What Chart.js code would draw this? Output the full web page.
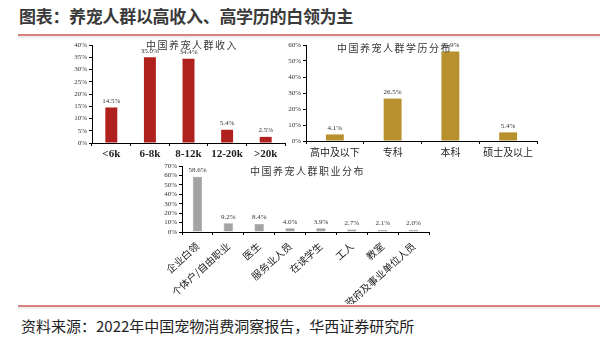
<!DOCTYPE html>
<html>
<head>
<meta charset="utf-8">
<script src="https://cdn.jsdelivr.net/npm/chart.js@4.4.1/dist/chart.umd.min.js"></script>
<style>
  body { margin: 0; width: 600px; height: 346px; background: #fff; position: relative; overflow: hidden; font-family: "Noto Sans CJK SC", sans-serif; }
  .title { position: absolute; left: 19px; top: 3px; font-size: 17px; font-weight: bold; color: #3a3a3a; letter-spacing: -0.3px; }
  .rule { position: absolute; left: 18px; right: 0; height: 2px; background: #d98080; }
  .shade { position: absolute; left: 18px; right: 0; height: 2px; background: #ececec; }
  .source { position: absolute; left: 21px; top: 315px; font-size: 15px; color: #222; }
  .sub { position: absolute; font-size: 10px; line-height: 12px; color: #333; letter-spacing: 1.5px; white-space: nowrap; }
  canvas { position: absolute; }
</style>
</head>
<body>
<div class="title">图表：养宠人群以高收入、高学历的白领为主</div>
<div class="rule" style="top:34px"></div>
<div class="shade" style="top:36px"></div>

<canvas id="income" width="245" height="130" style="left:50px;top:38px"></canvas>
<canvas id="education" width="280" height="126" style="left:270px;top:38px"></canvas>
<canvas id="occupation" width="300" height="146" style="left:140px;top:158px"></canvas>

<div class="sub" style="left:146px;top:39px">中国养宠人群收入</div>
<div class="sub" style="left:337px;top:42px">中国养宠人群学历分布</div>
<div class="sub" style="left:250px;top:165px">中国养宠人群职业分布</div>

<div class="rule" style="top:305px"></div>
<div class="shade" style="top:307px"></div>
<div class="source">资料来源：2022年中国宠物消费洞察报告，华西证券研究所</div>

<script>
// 收入分布
const incomeLabels = ['<6k', '6-8k', '8-12k', '12-20k', '>20k'];
const incomeValues = [14.5, 35.0, 34.4, 5.4, 2.5];

// 学历分布
const eduLabels = ['高中及以下', '专科', '本科', '硕士及以上'];
const eduValues = [4.1, 26.5, 55.9, 5.4];

// 职业分布
const jobLabels = ['企业白领', '个体户/自由职业', '医生', '服务业人员', '在读学生', '工人', '教室', '政府及事业单位人员'];
const jobValues = [58.6, 9.2, 8.4, 4.0, 3.9, 2.7, 2.1, 2.0];

const serif = '"Liberation Serif", "Times New Roman", serif';

// 在柱子顶部写数值
const valueLabels = {
  id: 'valueLabels',
  afterDatasetsDraw(chart) {
    const ctx = chart.ctx;
    const meta = chart.getDatasetMeta(0);
    const data = chart.data.datasets[0].data;
    ctx.save();
    ctx.font = '7px ' + serif;
    ctx.fillStyle = '#333';
    ctx.textAlign = 'center';
    ctx.textBaseline = 'bottom';
    meta.data.forEach((bar, i) => {
      ctx.fillText(data[i].toFixed(1) + '%', bar.x, bar.y - 3);
    });
    ctx.restore();
  }
};

function makeBar(id, labels, values, color, opt) {
  return new Chart(document.getElementById(id), {
    type: 'bar',
    data: {
      labels: labels,
      datasets: [{
        data: values,
        backgroundColor: color,
        borderColor: opt.border || color,
        borderWidth: opt.border ? 0.5 : 0,
        categoryPercentage: 1,
        barPercentage: opt.barPct
      }]
    },
    options: {
      responsive: false,
      animation: false,
      layout: { padding: { top: opt.top, right: opt.right, left: 0, bottom: 0 } },
      plugins: { legend: { display: false }, tooltip: { enabled: false } },
      scales: {
        x: {
          grid: { display: true, drawOnChartArea: false, tickLength: 3, color: '#000', offset: true },
          border: { color: '#000', width: 1 },
          ticks: {
            color: '#222',
            font: opt.xFont,
            padding: opt.xPad || 2,
            autoSkip: false,
            maxRotation: opt.rot || 0,
            minRotation: opt.rot || 0
          },
          afterFit(scale) { scale.height = opt.xHeight; }
        },
        y: {
          min: 0,
          max: opt.max,
          grid: { display: true, drawOnChartArea: false, tickLength: 3, color: '#000' },
          border: { color: '#000', width: 1 },
          ticks: {
            stepSize: opt.step,
            autoSkip: false,
            color: '#333',
            font: { family: serif, size: 7 },
            padding: 2,
            callback: v => v + '%'
          },
          afterFit(scale) { scale.width = opt.yWidth; }
        }
      }
    },
    plugins: [valueLabels]
  });
}

makeBar('income', incomeLabels, incomeValues, '#b0211d', {
  barPct: 0.31, max: 40, step: 5, top: 7, right: 10, yWidth: 42, xHeight: 25,
  xFont: { family: serif, size: 11, weight: 'bold' }
});

makeBar('education', eduLabels, eduValues, '#b8912e', {
  barPct: 0.31, max: 60, step: 10, top: 7, right: 13, yWidth: 36, xHeight: 23,
  xFont: { family: '"Noto Sans CJK SC"', size: 10 }
});

makeBar('occupation', jobLabels, jobValues, '#a3a3a3', {
  barPct: 0.3, max: 70, step: 10, top: 8, right: 11, yWidth: 42, xHeight: 72, rot: 42,
  border: '#8a8a8a', xPad: 5,
  xFont: { family: '"Noto Sans CJK SC"', size: 10 }
});
</script>
</body>
</html>
